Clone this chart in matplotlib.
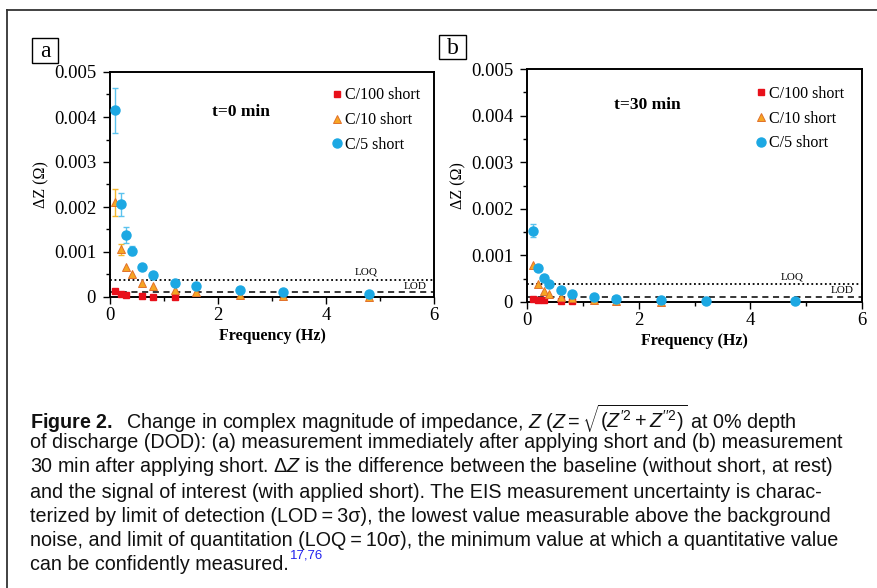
import matplotlib
matplotlib.use("Agg")
import matplotlib.pyplot as plt
import matplotlib.ticker as mticker
from matplotlib.lines import Line2D
from matplotlib.patches import Rectangle
import numpy as np

# Frekvenciák (Hz)
freq = [0.1, 0.2, 0.3, 0.4, 0.6, 0.8, 1.2, 1.6, 2.4, 3.2, 4.8]
freq_c100 = [0.1, 0.2, 0.3, 0.6, 0.8, 1.2]
freq_c100_b = [0.1, 0.2, 0.3, 0.6, 0.8]
freq_c10_b = [0.1, 0.2, 0.3, 0.4, 0.6, 0.8, 1.2, 1.6, 2.4]

# t=0 min adatok
a_c5 = [0.00415, 0.00206, 0.001375, 0.001025, 0.00067, 0.00049, 0.00032, 0.00024, 0.00015, 0.00011, 0.00006]
a_c5_err = [0.0005, 0.00025, 0.00017, 0.0001, 0, 0, 0, 0, 0, 0, 0]
a_c10 = [0.00211, 0.00106, 0.00067, 0.0005, 0.00032, 0.00024, 0.00015, 0.0001, 0.00004, 0.00002, 0.00001]
a_c10_err = [0.0003, 0.00012, 0, 0, 0, 0, 0, 0, 0, 0, 0]
a_c100 = [0.00014, 0.00007, 0.00004, 0.00003, 0.0, 0.0]

# t=30 min adatok
b_c5 = [0.001525, 0.00074, 0.00051, 0.00038, 0.00025, 0.00018, 0.00011, 0.00007, 0.00004, 0.00003, 0.000015]
b_c5_err = [0.00014, 0, 0, 0, 0, 0, 0, 0, 0, 0, 0]
b_c10 = [0.00079, 0.00038, 0.00024, 0.00018, 0.00011, 0.00008, 0.000035, 0.00002, 0.00001]
b_c100 = [0.00006, 0.00005, 0.00005, 0.000015, 0.000015]

loq = [0.00038, 0.00038]
lod = [0.000105, 0.000115]
titles = ["t=0 min", "t=30 min"]
letters = ["a", "b"]
series_names = ["C/100 short", "C/10 short", "C/5 short"]

red = "#e8101a"
orange = "#f6a623"
orange_edge = "#e2702a"
blue = "#1ca8e3"
blue_err = "#5cc3ee"
err_orange = "#f5b82e"

serif = "Liberation Serif"

plt.rcParams["mathtext.fontset"] = "custom"
plt.rcParams["mathtext.rm"] = "Liberation Sans"
plt.rcParams["mathtext.it"] = "Liberation Sans:italic"
plt.rcParams["mathtext.bf"] = "Liberation Sans:bold"

W, H = 877, 588
fig = plt.figure(figsize=(8.77, 5.88), dpi=100)

# Külső keret
fig.add_artist(Line2D([7/W, 7/W], [0, 1-10/H], transform=fig.transFigure, color="#333333", lw=1.3))
fig.add_artist(Line2D([7/W, 1], [1-10/H, 1-10/H], transform=fig.transFigure, color="#333333", lw=1.3))

axes_pos = [
    [110/W, 1-297/H, (434-110)/W, (297-72)/H],
    [527/W, 1-302/H, (862-527)/W, (302-69)/H],
]
data = [
    (freq_c100, a_c100, freq, a_c10, a_c10_err, freq, a_c5, a_c5_err),
    (freq_c100_b, b_c100, freq_c10_b, b_c10, None, freq, b_c5, b_c5_err),
]
# betűdobozok (bal, felső, jobb, alsó) pixelben
letter_box = [(32, 38, 58, 63), (439, 35, 466, 59)]
title_pos = [(0.405, 0.82), (0.36, 0.845)]
legend_anchor = [(0.66, 0.96), (0.66, 0.955)]

for i in range(2):
    ax = fig.add_axes(axes_pos[i])
    x100, y100, x10, y10, e10, x5, y5, e5 = data[i]

    # Hibasávok
    for xs, ys, es, col in [(x10, y10, e10, err_orange), (x5, y5, e5, blue_err)]:
        if es is None:
            continue
        xe = [x for x, e in zip(xs, es) if e > 0]
        ye = [y for y, e in zip(ys, es) if e > 0]
        ee = [e for e in es if e > 0]
        ax.errorbar(xe, ye, yerr=ee, fmt="none", ecolor=col, elinewidth=1.0, capsize=2.5, capthick=1.0, zorder=2)

    ax.plot(x100, y100, "s", color=red, ms=4.5, mec=red, label=series_names[0], zorder=3, clip_on=False)
    ax.plot(x10, y10, "^", color=orange, ms=6, mec=orange_edge, mew=0.7, label=series_names[1], zorder=4, clip_on=False)
    ax.plot(x5, y5, "o", color=blue, ms=6.5, mec=blue, label=series_names[2], zorder=5, clip_on=False)

    # LOQ és LOD vonalak
    ax.axhline(loq[i], color="black", ls=(0, (1, 1.5)), lw=1.3, zorder=1)
    ax.axhline(lod[i], color="black", ls=(0, (4, 3)), lw=1.1, zorder=1)
    ax.text(4.75, loq[i] + 0.00007, "LOQ", fontsize=8, family=serif, ha="center", va="bottom")
    ax.text(5.65, lod[i] + 0.00003, "LOD", fontsize=8, family=serif, ha="center", va="bottom")

    ax.set_xlim(0, 6)
    ax.set_ylim(0, 0.005)
    ax.xaxis.set_major_locator(mticker.MultipleLocator(2))
    ax.xaxis.set_minor_locator(mticker.MultipleLocator(1))
    ax.yaxis.set_major_locator(mticker.MultipleLocator(0.001))
    ax.yaxis.set_minor_locator(mticker.MultipleLocator(0.0005))
    ax.yaxis.set_major_formatter(mticker.FuncFormatter(lambda v, p: "0" if abs(v) < 1e-9 else "%.3f" % v))
    ax.tick_params(which="both", direction="out", width=1.0, labelsize=13.5, pad=2)
    ax.tick_params(axis="y", which="major", pad=5)
    ax.tick_params(which="major", length=5)
    ax.tick_params(which="minor", length=3)
    for lab in ax.get_xticklabels() + ax.get_yticklabels():
        lab.set_family(serif)
    for s in ax.spines.values():
        s.set_linewidth(1.4)

    ax.set_xlabel("Frequency (Hz)", fontsize=11.5, family=serif, fontweight="bold", labelpad=3)
    ax.set_ylabel("ΔZ (Ω)", fontsize=11.5, family=serif, labelpad=3)

    ax.text(title_pos[i][0], title_pos[i][1], titles[i], transform=ax.transAxes, fontsize=12.5,
            family=serif, fontweight="bold", ha="center", va="center")

    ax.legend(loc="upper left", bbox_to_anchor=legend_anchor[i], frameon=False, handletextpad=0.1,
              handlelength=0.8, borderaxespad=0, labelspacing=0.55, prop={"family": serif, "size": 11.5})

    # panel betűjel keretben
    l, t, r, b = letter_box[i]
    fig.add_artist(Rectangle((l/W, 1-b/H), (r-l)/W, (b-t)/H, transform=fig.transFigure,
                             fc="white", ec="black", lw=1.0))
    fig.text((l+r)/2/W, 1-(t+b)/2/H - 1/H, letters[i], fontsize=17, family=serif, ha="center", va="center")

# Ábraaláírás
caption = [
    r"$\mathbf{Figure\ 2.}$  Change in complex magnitude of impedance, $Z$ ($Z=\sqrt{(Z^{\prime 2}+Z^{\prime\prime 2})}$ at 0% depth",
    "of discharge (DOD): (a) measurement immediately after applying short and (b) measurement",
    r"30 min after applying short. $\mathit{\Delta Z}$ is the difference between the baseline (without short, at rest)",
    "and the signal of interest (with applied short). The EIS measurement uncertainty is charac-",
    "terized by limit of detection (LOD\u2009=\u20093σ), the lowest value measurable above the background",
    "noise, and limit of quantitation (LOQ\u2009=\u200910σ), the minimum value at which a quantitative value",
    "can be confidently measured.",
]
cap_y = [419, 443, 467, 492, 516, 540, 564]
txts = []
for line, yy in zip(caption, cap_y):
    t = fig.text(30/W, 1-yy/H, line, fontsize=14.2, family=["Liberation Sans", "DejaVu Sans"],
                 ha="left", va="center", color="#111111")
    txts.append(t)

fig.canvas.draw()
bb = txts[-1].get_window_extent()
fig.text((bb.x1 + 1)/W, 1-(cap_y[-1]-8)/H, "17,76", fontsize=9.5, family="Liberation Sans",
         color="#2222ee", ha="left", va="center")

plt.savefig("out.png", dpi=100)
